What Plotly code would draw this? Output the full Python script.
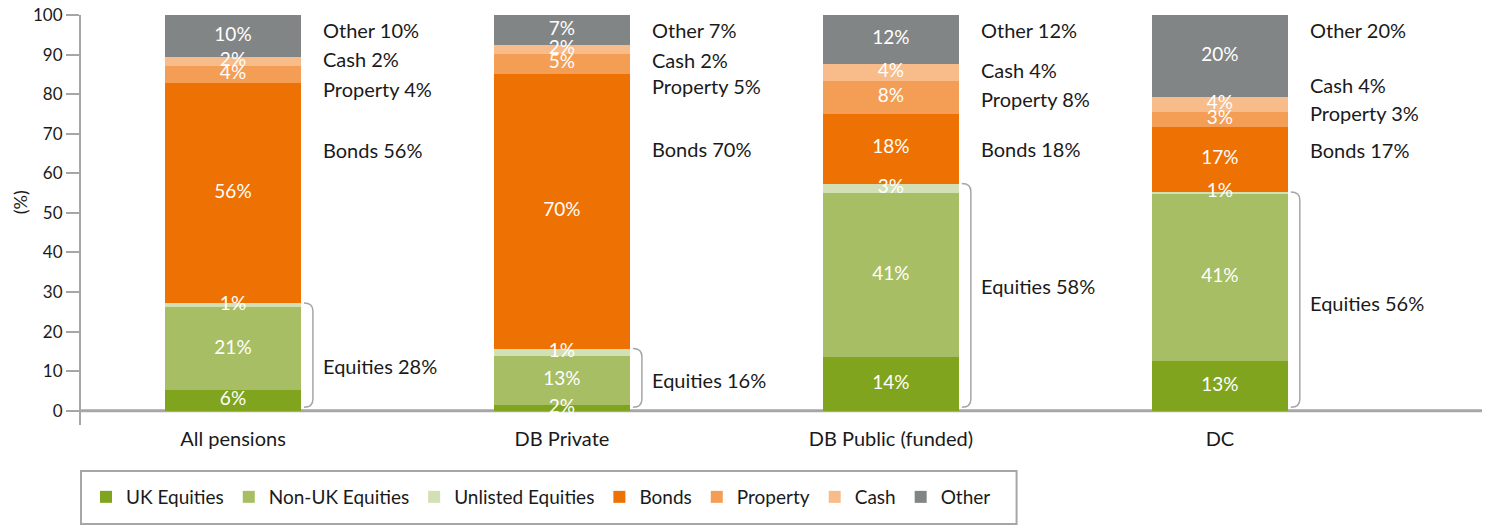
import plotly.graph_objects as go

categories = ["All pensions", "DB Private", "DB Public (funded)", "DC"]
series = ["UK Equities", "Non-UK Equities", "Unlisted Equities", "Bonds", "Property", "Cash", "Other"]

uk_equities = [5.2, 1.4, 13.6, 12.6]
non_uk_equities = [20.9, 12.4, 41.3, 42.3]
unlisted_equities = [1.1, 1.9, 2.5, 0.4]
bonds = [55.7, 69.5, 17.7, 16.4]
property_ = [4.2, 5.0, 8.3, 3.8]
cash = [2.3, 2.3, 4.2, 3.7]
other = [10.6, 7.5, 12.4, 20.8]

uk_equities_labels = ["6%", "2%", "14%", "13%"]
non_uk_equities_labels = ["21%", "13%", "41%", "41%"]
unlisted_equities_labels = ["1%", "1%", "3%", "1%"]
bonds_labels = ["56%", "70%", "18%", "17%"]
property_labels = ["4%", "5%", "8%", "3%"]
cash_labels = ["2%", "2%", "4%", "4%"]
other_labels = ["10%", "7%", "12%", "20%"]
equities_totals = ["28%", "16%", "58%", "56%"]

colors = ["#81a41e", "#a8be64", "#d3dfb5", "#ee7203", "#f49e55", "#f8bc8a", "#828585"]

# where the side labels sit (y in axis units), tuned by eye
side_label_y = {
    "Other": [96.2, 96.2, 96.2, 96.2],
    "Cash": [88.9, 88.6, 86.1, 82.3],
    "Property": [81.3, 82.1, 78.8, 75.2],
    "Bonds": [65.9, 66.1, 66.1, 65.9],
    "Equities": [11.4, 7.8, 31.5, 27.2],
}

FONT = "Lato, 'Open Sans', sans-serif"
AXIS_GREY = "#a6a6a6"
TEXT = "#1a1a1a"
BAR_WIDTH = 0.413
PX_X = 1 / 329  # data units per pixel on x
PX_Y = 103.6 / 410  # data units per pixel on y

# the page body has an 8px margin, so the figure is shrunk by that much
W, H = 1482, 521

values = [uk_equities, non_uk_equities, unlisted_equities, bonds, property_, cash, other]
labels = [uk_equities_labels, non_uk_equities_labels, unlisted_equities_labels,
          bonds_labels, property_labels, cash_labels, other_labels]
x = list(range(len(categories)))

fig = go.Figure()
for name, vals, color in zip(series, values, colors):
    fig.add_bar(
        x=x,
        y=vals,
        name=name,
        width=BAR_WIDTH,
        marker=dict(color=color, line=dict(width=0)),
        hoverinfo="skip",
    )

# segment labels on top of every bar, at the middle of each segment
base = [0.0] * len(x)
for vals, labs in zip(values, labels):
    mids = [b + v / 2 for b, v in zip(base, vals)]
    fig.add_scatter(
        x=x, y=mids, text=labs, mode="text",
        textposition="middle center",
        textfont=dict(color="white", size=19, family=FONT),
        showlegend=False, hoverinfo="skip", cliponaxis=False,
    )
    base = [b + v for b, v in zip(base, vals)]

side_texts = {
    "Other": other_labels,
    "Cash": cash_labels,
    "Property": property_labels,
    "Bonds": bonds_labels,
    "Equities": equities_totals,
}
for key, labs in side_texts.items():
    for i, lab in enumerate(labs):
        fig.add_annotation(
            x=i + BAR_WIDTH / 2, y=side_label_y[key][i],
            xref="x", yref="y", xshift=20,
            text=f"{key} {lab}", showarrow=False,
            xanchor="left", yanchor="middle",
            font=dict(size=20, color=TEXT, family=FONT),
        )

# y axis title
fig.add_annotation(
    x=0, y=52.7, xref="paper", yref="y", xshift=-61,
    text="(%)", textangle=-90, showarrow=False,
    xanchor="center", yanchor="middle",
    font=dict(size=18, color=TEXT, family=FONT),
)

# brackets round the equity blocks
for i in x:
    top = uk_equities[i] + non_uk_equities[i] + unlisted_equities[i]
    bot = 0.9
    x0 = i + BAR_WIDTH / 2 + 3 * PX_X
    x1 = i + BAR_WIDTH / 2 + 12 * PX_X
    r = 8 * PX_Y
    fig.add_shape(
        type="path",
        path=(f"M {x0},{top} Q {x1},{top} {x1},{top - r} "
              f"L {x1},{bot + r} Q {x1},{bot} {x0},{bot}"),
        line=dict(color=AXIS_GREY, width=1.5),
        xref="x", yref="y",
    )

# x axis baseline
fig.add_shape(type="line", xref="paper", yref="y", x0=0, x1=1, y0=0, y1=0,
              line=dict(color=AXIS_GREY, width=3), layer="below")

# legend frame
fig.add_shape(type="rect", xref="paper", yref="paper",
              x0=0, x1=0.664, y0=-0.2415, y1=-0.112,
              line=dict(color=AXIS_GREY, width=2))

fig.update_layout(
    width=W,
    height=H,
    margin=dict(l=73, r=0, t=7, b=104, autoexpand=False),
    barmode="stack",
    bargap=0,
    plot_bgcolor="white",
    paper_bgcolor="white",
    font=dict(family=FONT, color=TEXT),
    showlegend=True,
    legend=dict(
        orientation="h",
        xref="container", x=78 / W, xanchor="left",
        yref="container", y=(H - 489) / H, yanchor="middle",
        font=dict(size=19, color=TEXT, family=FONT),
        itemwidth=30,
        traceorder="normal",
        borderwidth=0,
        bgcolor="rgba(0,0,0,0)",
    ),
)

fig.update_xaxes(
    range=[-0.462, 3.821],
    tickvals=x,
    ticktext=categories,
    tickfont=dict(size=20, color=TEXT, family=FONT),
    showline=False,
    showgrid=False,
    zeroline=False,
    ticks="",
    automargin=False,
)

fig.update_yaxes(
    range=[-3.6, 100],
    tickvals=list(range(0, 101, 10)),
    tickfont=dict(size=17, color=TEXT, family=FONT),
    ticklabeloverflow="allow",
    ticks="outside",
    ticklen=13,
    tickwidth=2,
    tickcolor=AXIS_GREY,
    showline=True,
    linecolor=AXIS_GREY,
    linewidth=2,
    showgrid=False,
    zeroline=False,
    automargin=False,
)

fig.write_html("out.html")
